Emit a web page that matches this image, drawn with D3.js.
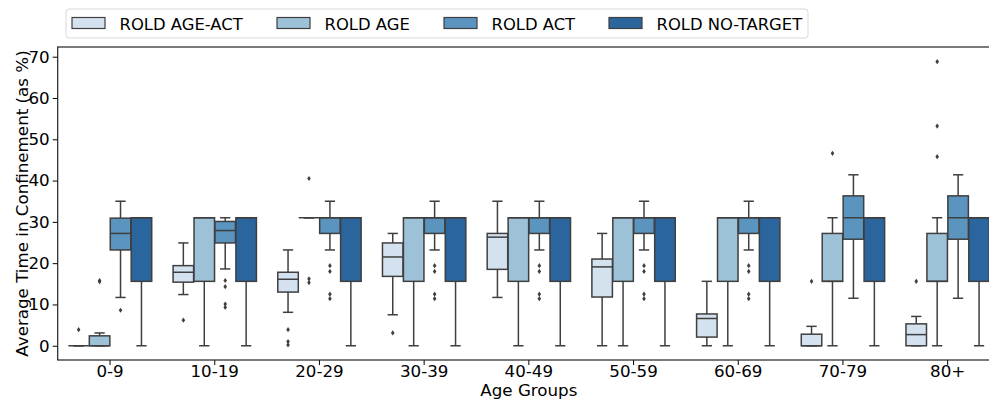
<!DOCTYPE html>
<html>
<head>
<meta charset="utf-8">
<script src="https://cdn.jsdelivr.net/npm/d3@7"></script>
<style>
  html, body { margin: 0; padding: 0; background: #fff; overflow: hidden; }
  svg { display: block; font-family: "DejaVu Sans", sans-serif; }
</style>
</head>
<body>
<svg id="chart" width="989" height="400"></svg>
<script>
// categories
const ageGroups = ["0-9", "10-19", "20-29", "30-39", "40-49", "50-59", "60-69", "70-79", "80+"];
const series = ["ROLD AGE-ACT", "ROLD AGE", "ROLD ACT", "ROLD NO-TARGET"];
const colors = ["#d4e2f0", "#9dc2d7", "#5a94bf", "#2b659e"];

// box stats per group: [whisker low, q1, median, q3, whisker high]
const roldAgeAct = [
  [0, 0, 0, 0, 0], [12.4, 15.4, 17.8, 19.4, 24.9], [8.1, 13.0, 16.1, 17.8, 23.2],
  [7.5, 16.8, 21.5, 24.9, 27.2], [11.7, 18.5, 26.3, 27.2, 35], [0, 11.8, 19.1, 21.0, 27.2],
  [0, 2.1, 6.6, 7.7, 15.6], [0, 0, 0, 2.8, 4.7], [0, 0, 2.7, 5.3, 7.1]
];
const roldAge = [
  [0, 0, 0, 2.4, 3.1], [0, 15.6, 31, 31, 31], [31, 31, 31, 31, 31],
  [0, 15.6, 31, 31, 31], [0, 15.6, 31, 31, 31], [0, 15.6, 31, 31, 31],
  [0, 15.6, 31, 31, 31], [0, 15.6, 15.6, 27.2, 31], [0, 15.6, 15.6, 27.2, 31]
];
const roldAct = [
  [11.7, 23.2, 27.2, 30.9, 35], [18.6, 24.9, 27.9, 30.1, 31], [23.2, 27.2, 31, 31, 35],
  [23.2, 27.2, 31, 31, 35], [23.2, 27.2, 31, 31, 35], [23.2, 27.2, 31, 31, 35],
  [23.2, 27.2, 31, 31, 35], [11.5, 25.8, 31, 36.3, 41.4], [11.5, 25.8, 31, 36.3, 41.4]
];
const roldNoTarget = [
  [0, 15.6, 31, 31, 31], [0, 15.6, 31, 31, 31], [0, 15.6, 31, 31, 31],
  [0, 15.6, 31, 31, 31], [0, 15.6, 31, 31, 31], [0, 15.6, 31, 31, 31],
  [0, 15.6, 31, 31, 31], [0, 15.6, 31, 31, 31], [0, 15.6, 31, 31, 31]
];

// outliers per group
const roldAgeActOutliers = [[3.9], [6.2], [3.9, 1.0, 0.2], [3.1], [], [], [], [15.6], [15.6]];
const roldAgeOutliers = [[15.5, 15.8], [], [40.5, 16.2, 15.3], [], [], [], [], [46.6], [68.8, 53.2, 45.8]];
const roldActOutliers = [
  [8.6], [15.8, 14.3, 10.1, 9.3], [19.4, 18.0, 12.5, 11.4], [19.4, 18.0, 12.5, 11.4],
  [19.4, 18.0, 12.5, 11.4], [19.4, 18.0, 12.5, 11.4], [19.4, 18.0, 12.5, 11.4], [], []
];
const roldNoTargetOutliers = [[], [], [], [], [], [], [], [], []];

const yTicks = [0, 10, 20, 30, 40, 50, 60, 70];

(function () {
  const statsBySeries = [roldAgeAct, roldAge, roldAct, roldNoTarget];
  const outliersBySeries = [roldAgeActOutliers, roldAgeOutliers, roldActOutliers, roldNoTargetOutliers];

  const svg = d3.select("#chart");
  const plotLeft = 57.7, plotRight = 1000, plotTop = 47, plotBottom = 360;
  const lineColor = "#3f3f3f";
  const fontSize = "16.7px";

  const x = d3.scaleBand().domain(ageGroups).range([plotLeft, plotRight]).padding(0);
  const xHue = d3.scaleBand().domain(series).range([x.bandwidth() * 0.1, x.bandwidth() * 0.9]);
  const y = d3.scaleLinear().domain([-3.45, 72.35]).range([plotBottom, plotTop]);

  const boxes = [];
  series.forEach((s, si) => {
    ageGroups.forEach((g, gi) => {
      const [lo, q1, med, q3, hi] = statsBySeries[si][gi];
      boxes.push({ s, si, g, lo, q1, med, q3, hi, out: outliersBySeries[si][gi] });
    });
  });

  const plot = svg.append("g");
  const bw = xHue.bandwidth() * 0.98;
  const cx = d => x(d.g) + xHue(d.s) + xHue.bandwidth() / 2;

  // whiskers
  plot.selectAll("line.wlo").data(boxes).enter().append("line")
    .attr("x1", cx).attr("x2", cx)
    .attr("y1", d => y(d.q1)).attr("y2", d => y(d.lo))
    .attr("stroke", lineColor).attr("stroke-width", 1.5);
  plot.selectAll("line.whi").data(boxes).enter().append("line")
    .attr("x1", cx).attr("x2", cx)
    .attr("y1", d => y(d.q3)).attr("y2", d => y(d.hi))
    .attr("stroke", lineColor).attr("stroke-width", 1.5);
  // caps
  ["lo", "hi"].forEach(k => {
    plot.selectAll("line.cap" + k).data(boxes).enter().append("line")
      .attr("x1", d => cx(d) - bw / 4).attr("x2", d => cx(d) + bw / 4)
      .attr("y1", d => y(d[k])).attr("y2", d => y(d[k]))
      .attr("stroke", lineColor).attr("stroke-width", 1.5);
  });

  // boxes
  plot.selectAll("rect.box").data(boxes).enter().append("rect")
    .attr("x", d => cx(d) - bw / 2)
    .attr("width", bw)
    .attr("y", d => y(d.q3))
    .attr("height", d => Math.max(0, y(d.q1) - y(d.q3)))
    .attr("fill", d => colors[d.si])
    .attr("stroke", lineColor).attr("stroke-width", 1.5);

  // medians
  plot.selectAll("line.med").data(boxes).enter().append("line")
    .attr("x1", d => cx(d) - bw / 2).attr("x2", d => cx(d) + bw / 2)
    .attr("y1", d => y(d.med)).attr("y2", d => y(d.med))
    .attr("stroke", lineColor).attr("stroke-width", 1.5);

  // outliers (thin diamonds)
  const pts = [];
  boxes.forEach(d => d.out.forEach(v => pts.push({ x: cx(d), v })));
  plot.selectAll("path.flier").data(pts).enter().append("path")
    .attr("d", d => {
      const px = d.x, py = y(d.v);
      return `M${px},${py - 2.6}L${px + 1.8},${py}L${px},${py + 2.6}L${px - 1.8},${py}Z`;
    })
    .attr("fill", lineColor);

  // y axis
  const yAxis = svg.append("g")
    .attr("transform", `translate(${plotLeft},0)`)
    .call(d3.axisLeft(y).tickValues(yTicks).tickSize(5).tickPadding(3));
  yAxis.select(".domain").remove();
  yAxis.selectAll("text").style("font-size", fontSize).attr("fill", "#000")
    .style("font-family", "DejaVu Sans");
  yAxis.selectAll("line").attr("stroke", "#000");

  // x axis
  const xAxis = svg.append("g")
    .attr("transform", `translate(0,${plotBottom})`)
    .call(d3.axisBottom(x).tickSize(5).tickPadding(0));
  xAxis.select(".domain").remove();
  xAxis.selectAll("text").style("font-size", fontSize).attr("fill", "#000")
    .style("font-family", "DejaVu Sans");
  xAxis.selectAll("line").attr("stroke", "#000");

  // spines
  svg.append("rect")
    .attr("x", plotLeft).attr("y", plotTop)
    .attr("width", plotRight - plotLeft).attr("height", plotBottom - plotTop)
    .attr("fill", "none").attr("stroke", "#222").attr("stroke-width", 1.2);

  // axis titles
  svg.append("text")
    .attr("x", (plotLeft + plotRight) / 2).attr("y", 396)
    .attr("text-anchor", "middle").style("font-size", fontSize)
    .text("Age Groups");
  svg.append("text")
    .attr("transform", `translate(28,${(plotTop + plotBottom) / 2}) rotate(-90)`)
    .attr("text-anchor", "middle").style("font-size", fontSize)
    .text("Average Time in Confinement (as %)");

  // legend
  const legend = svg.append("g");
  legend.append("rect")
    .attr("x", 66).attr("y", 9).attr("width", 742).attr("height", 29)
    .attr("rx", 3).attr("fill", "#fff").attr("stroke", "#d9d9d9").attr("stroke-width", 1);
  const legendX = [72, 277, 444, 609];
  series.forEach((s, i) => {
    const gItem = legend.append("g").attr("transform", `translate(${legendX[i]},0)`);
    gItem.append("rect")
      .attr("x", 0).attr("y", 17.5).attr("width", 33).attr("height", 11)
      .attr("fill", colors[i]).attr("stroke", lineColor).attr("stroke-width", 1.2);
    gItem.append("text")
      .attr("x", 47.5).attr("y", 29.5).style("font-size", "16.4px")
      .text(s);
  });
})();
</script>
</body>
</html>
